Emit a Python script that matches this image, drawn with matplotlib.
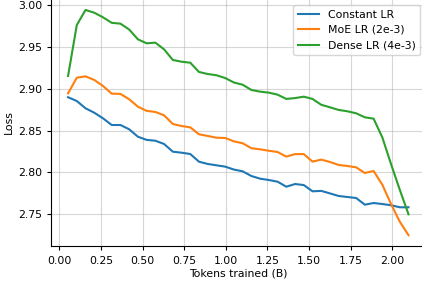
import matplotlib
matplotlib.use("Agg")
import matplotlib.pyplot as plt
import numpy as np

step = 0.0524288
tokens = [step * k for k in range(1, 41)]

constant_lr = [2.890, 2.8855, 2.8768, 2.8715, 2.8648, 2.8568, 2.8568, 2.8517, 2.8428, 2.8390,
               2.8380, 2.8341, 2.8249, 2.8237, 2.8221, 2.8129, 2.8102, 2.8086, 2.8070, 2.8035,
               2.8014, 2.7958, 2.7926, 2.7910, 2.7890, 2.7830, 2.7862, 2.7850, 2.7775, 2.7780,
               2.7750, 2.7719, 2.7707, 2.7695, 2.7615, 2.7635, 2.7623, 2.7608, 2.7584, 2.7584]

moe_lr = [2.8947, 2.9134, 2.9150, 2.9107, 2.9035, 2.8943, 2.8940, 2.8876, 2.8787, 2.8737,
          2.8724, 2.8684, 2.8580, 2.8556, 2.8540, 2.8457, 2.8437, 2.8416, 2.8413, 2.8372,
          2.8350, 2.8290, 2.8277, 2.8260, 2.8245, 2.8190, 2.8220, 2.8220, 2.8130, 2.8154,
          2.8126, 2.8090, 2.8078, 2.8062, 2.7994, 2.8018, 2.7854, 2.7623, 2.7412, 2.7250]

dense_lr = [2.9155, 2.9764, 2.9944, 2.9911, 2.9856, 2.9790, 2.9780, 2.9710, 2.9593, 2.9545,
            2.9553, 2.9473, 2.9346, 2.9325, 2.9313, 2.9202, 2.9178, 2.9163, 2.9130, 2.9076,
            2.9050, 2.8987, 2.8967, 2.8955, 2.8931, 2.8880, 2.8890, 2.8907, 2.8880, 2.8810,
            2.8780, 2.8748, 2.8732, 2.8708, 2.8660, 2.8644, 2.8420, 2.8100, 2.7794, 2.7500]

series = [("Constant LR", constant_lr, "#1f77b4"),
          ("MoE LR (2e-3)", moe_lr, "#ff7f0e"),
          ("Dense LR (4e-3)", dense_lr, "#2ca02c")]

fs = 7.8
fig = plt.figure(figsize=(4.22, 2.83), dpi=100)
ax = fig.add_axes([0.1209, 0.129, 0.8877, 0.876])
for name, vals, col in series:
    ax.plot(tokens, vals, color=col, lw=1.5, label=name)

ax.set_xlim(-0.05, 2.2)
ax.set_ylim(2.7115, 3.008)
ax.set_xticks([0.0, 0.25, 0.5, 0.75, 1.0, 1.25, 1.5, 1.75, 2.0])
ax.set_yticks([2.75, 2.80, 2.85, 2.90, 2.95, 3.00])
ax.tick_params(labelsize=fs, length=3)
ax.grid(True, color="#b0b0b0", alpha=0.5, lw=0.8)
ax.set_xlabel("Tokens trained (B)", fontsize=fs, labelpad=2)
ax.set_ylabel("Loss", fontsize=fs, labelpad=3)
ax.legend(loc="upper right", fontsize=fs, bbox_to_anchor=(1.0, 0.995))

fig.savefig("out.png", dpi=100)
